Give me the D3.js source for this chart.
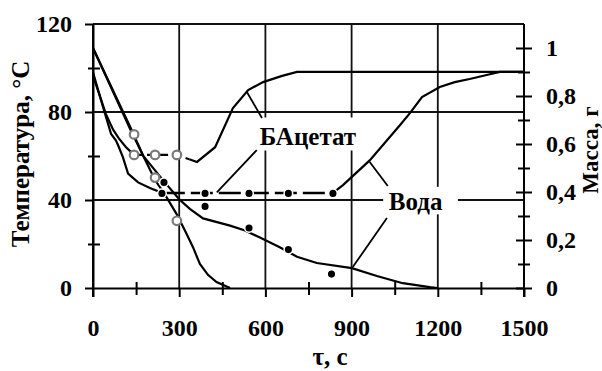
<!DOCTYPE html>
<html>
<head>
<meta charset="utf-8">
<script src="https://cdn.jsdelivr.net/npm/d3@7"></script>
<style>
  body { margin: 0; background: #fff; }
  text { font-family: "Liberation Serif", "Times New Roman", serif; font-weight: bold; }
</style>
</head>
<body>
<div id="chart"></div>
<script>
// оси
const timeTicks = [0, 300, 600, 900, 1200, 1500]
const timeMinor = [150, 450, 750, 1050, 1350]
const tempTicks = [0, 40, 80, 120]
const tempMinor = [20, 60, 100]
const massTicks = [0, 0.2, 0.4, 0.6, 0.8, 1]
const massLabels = ['0', '0,2', '0,4', '0,6', '0,8', '1']
const massMinor = [0.1, 0.3, 0.5, 0.7, 0.9]

// температура, расчет (t, °C)
const tempBAFall = [[0, 96.5], [45, 79], [70, 72], [90, 68], [115, 64], [143, 60.5]]
const tempBAPlateau = [[143, 60.5], [292, 60.5], [335, 58.5]]
const tempBARise = [[335, 58.5], [362, 57.3], [425, 64], [487, 81.8], [540, 90], [592, 93.6], [658, 96.4], [710, 98.2], [1500, 98.2]]
const tempWaterFall = [[0, 98], [40, 80], [63, 70], [80, 67], [87, 65], [104, 59.5], [122, 52], [157, 48], [198, 45.5], [233, 43.6], [243, 43.2]]
const tempWaterPlateau = [[243, 43.2], [835, 43.2]]
const tempWaterRise = [[835, 43.2], [870, 46.8], [963, 58], [1068, 74], [1103, 79.5], [1145, 86.8], [1207, 91.4], [1259, 93.6], [1311, 95], [1370, 96.8], [1416, 98.2], [1500, 98.2]]

// масса, расчет (t, г)
const massBA = [[0, 1], [130, 0.67], [175, 0.55], [216, 0.45], [250, 0.39], [290, 0.31], [320, 0.24], [348, 0.17], [372, 0.1], [400, 0.055], [430, 0.025], [477, 0]]
const massWater = [[0, 1], [130, 0.66], [175, 0.55], [216, 0.49], [250, 0.44], [300, 0.37], [337, 0.33], [383, 0.29], [477, 0.26], [529, 0.24], [581, 0.21], [650, 0.17], [710, 0.13], [779, 0.104], [901, 0.083], [988, 0.05], [1078, 0.02], [1172, 0.004], [1200, 0]]

// эксперимент
const expTempBA = [[143, 60.5], [216, 60.5], [292, 60.5]]
const expMassBA = [[143, 0.64], [216, 0.46], [292, 0.28]]
const expTempWater = [[240, 43], [390, 43], [543, 43], [680, 43], [835, 43]]
const expMassWater = [[247, 0.44], [390, 0.34], [543, 0.25], [680, 0.16], [830, 0.058]]

// подписи (t, °C)
const labels = [
  { text: 'БАцетат', at: [748, 65], box: [[565, 77.5], [935, 62.5]] },
  { text: 'Вода', at: [1123, 35.5], box: [[1010, 46], [1270, 33.5]] }
]
const leaders = [
  [[536, 89], [588, 77.3]],
  [[570, 62.7], [431, 43.5]],
  [[963, 57.3], [1026, 46.4]],
  [[1023, 31.8], [904, 9.5]]
]

const width = 602
const height = 371
const padL = 93, padR = 524, padT = 24, padB = 288
const serif = 'Liberation Serif'

const x = d3.scaleLinear().domain([0, 1500]).range([padL, padR])
const yT = d3.scaleLinear().domain([0, 120]).range([padB, padT])
const yM = d3.scaleLinear().domain([0, 1.1]).range([padB, padT])

const svg = d3.select('#chart').append('svg')
  .attr('width', width)
  .attr('height', height)

// сетка
svg.selectAll('line.hgrid')
  .data([40, 80, 120])
  .enter().append('line')
  .attr('x1', x(0)).attr('x2', x(1500))
  .attr('y1', d => yT(d)).attr('y2', d => yT(d))
  .attr('stroke', '#111').attr('stroke-width', 1.8)
svg.selectAll('line.vgrid')
  .data([300, 600, 900, 1200])
  .enter().append('line')
  .attr('x1', d => x(d)).attr('x2', d => x(d))
  .attr('y1', padT).attr('y2', padB)
  .attr('stroke', '#111').attr('stroke-width', 1.8)

function styleAxis (g) {
  g.attr('font-family', serif)
  g.selectAll('path, line').attr('stroke', '#000').attr('stroke-width', 2)
  g.selectAll('text').attr('font-size', 24).attr('fill', '#000')
    .attr('font-family', serif).attr('font-weight', 'bold')
}

// ось X
svg.append('g')
  .attr('transform', `translate(0,${padB})`)
  .call(d3.axisBottom(x).tickValues(timeTicks).tickFormat(d3.format('d'))
    .tickSizeInner(9).tickSizeOuter(0).tickPadding(22))
  .call(styleAxis)
svg.append('g')
  .attr('transform', `translate(0,${padB - 6})`)
  .call(d3.axisBottom(x).tickValues(timeMinor).tickSize(13).tickFormat(''))
  .call(g => g.select('.domain').remove())
  .call(styleAxis)

// ось температуры
svg.append('g')
  .attr('transform', `translate(${padL},0)`)
  .call(d3.axisLeft(yT).tickValues(tempTicks).tickSizeInner(8).tickSizeOuter(0).tickPadding(13))
  .call(styleAxis)
svg.append('g')
  .attr('transform', `translate(${padL - 5},0)`)
  .call(d3.axisRight(yT).tickValues(tempMinor).tickSize(12).tickFormat(''))
  .call(g => g.select('.domain').remove())
  .call(styleAxis)
svg.append('line')
  .attr('x1', padL).attr('x2', padL).attr('y1', padT).attr('y2', padB + 9)
  .attr('stroke', '#000').attr('stroke-width', 2)

// ось массы
svg.append('line')
  .attr('x1', padR).attr('x2', padR).attr('y1', padT).attr('y2', padB + 9)
  .attr('stroke', '#000').attr('stroke-width', 2)
svg.append('g')
  .attr('transform', `translate(${padR - 8},0)`)
  .call(d3.axisRight(yM).tickValues(massTicks).tickSize(16).tickPadding(14)
    .tickFormat((d, i) => massLabels[i]))
  .call(g => g.select('.domain').remove())
  .call(styleAxis)
svg.append('g')
  .attr('transform', `translate(${padR - 6},0)`)
  .call(d3.axisRight(yM).tickValues(massMinor).tickSize(12).tickFormat(''))
  .call(g => g.select('.domain').remove())
  .call(styleAxis)

// кривые
const lineT = d3.line().x(d => x(d[0])).y(d => yT(d[1]))
const lineM = d3.line().x(d => x(d[0])).y(d => yM(d[1]))

const solidT = [tempBAFall, tempBARise, tempWaterFall, tempWaterRise]
svg.selectAll('path.solidT')
  .data(solidT)
  .enter().append('path')
  .attr('d', lineT)
  .attr('fill', 'none').attr('stroke', '#000').attr('stroke-width', 2.2)
svg.selectAll('path.solidM')
  .data([massBA, massWater])
  .enter().append('path')
  .attr('d', lineM)
  .attr('fill', 'none').attr('stroke', '#000').attr('stroke-width', 2.2)
svg.append('path')
  .attr('d', lineT(tempBAPlateau))
  .attr('fill', 'none').attr('stroke', '#000').attr('stroke-width', 2.2)
  .attr('stroke-dasharray', '8,5')
svg.append('path')
  .attr('d', lineT(tempWaterPlateau))
  .attr('fill', 'none').attr('stroke', '#000').attr('stroke-width', 2.4)
  .attr('stroke-dasharray', '22,6')

// точки
svg.selectAll('circle.openT')
  .data(expTempBA.map(d => [x(d[0]), yT(d[1])]).concat(expMassBA.map(d => [x(d[0]), yM(d[1])])))
  .enter().append('circle')
  .attr('cx', d => d[0]).attr('cy', d => d[1]).attr('r', 4.3)
  .attr('fill', '#fff').attr('stroke', '#7a7a7a').attr('stroke-width', 2.2)
svg.selectAll('circle.fill')
  .data(expTempWater.map(d => [x(d[0]), yT(d[1])]).concat(expMassWater.map(d => [x(d[0]), yM(d[1])])))
  .enter().append('circle')
  .attr('cx', d => d[0]).attr('cy', d => d[1]).attr('r', 4.3)
  .attr('fill', '#000').attr('stroke', '#fff').attr('stroke-width', 1.5)

// подписи кривых
svg.selectAll('rect.lbl')
  .data(labels)
  .enter().append('rect')
  .attr('x', d => x(d.box[0][0])).attr('y', d => yT(d.box[0][1]))
  .attr('width', d => x(d.box[1][0]) - x(d.box[0][0]))
  .attr('height', d => yT(d.box[1][1]) - yT(d.box[0][1]))
  .attr('fill', '#fff')
svg.selectAll('text.lbl')
  .data(labels)
  .enter().append('text')
  .attr('x', d => x(d.at[0])).attr('y', d => yT(d.at[1]))
  .attr('text-anchor', 'middle').attr('font-size', 25)
  .attr('font-family', serif).attr('font-weight', 'bold')
  .text(d => d.text)
svg.selectAll('line.leader')
  .data(leaders)
  .enter().append('line')
  .attr('x1', d => x(d[0][0])).attr('y1', d => yT(d[0][1]))
  .attr('x2', d => x(d[1][0])).attr('y2', d => yT(d[1][1]))
  .attr('stroke', '#000').attr('stroke-width', 1.8)

// названия осей
svg.append('text')
  .attr('x', 330).attr('y', 365)
  .attr('text-anchor', 'middle').attr('font-size', 25)
  .attr('font-family', serif).attr('font-weight', 'bold')
  .text('τ, с')
svg.append('text')
  .attr('transform', 'translate(29,154) rotate(-90)')
  .attr('text-anchor', 'middle').attr('font-size', 25)
  .attr('font-family', serif).attr('font-weight', 'bold')
  .text('Температура, °С')
svg.append('text')
  .attr('transform', 'translate(598,150) rotate(-90)')
  .attr('text-anchor', 'middle').attr('font-size', 23)
  .attr('font-family', serif).attr('font-weight', 'bold')
  .text('Масса, г')
</script>
</body>
</html>
